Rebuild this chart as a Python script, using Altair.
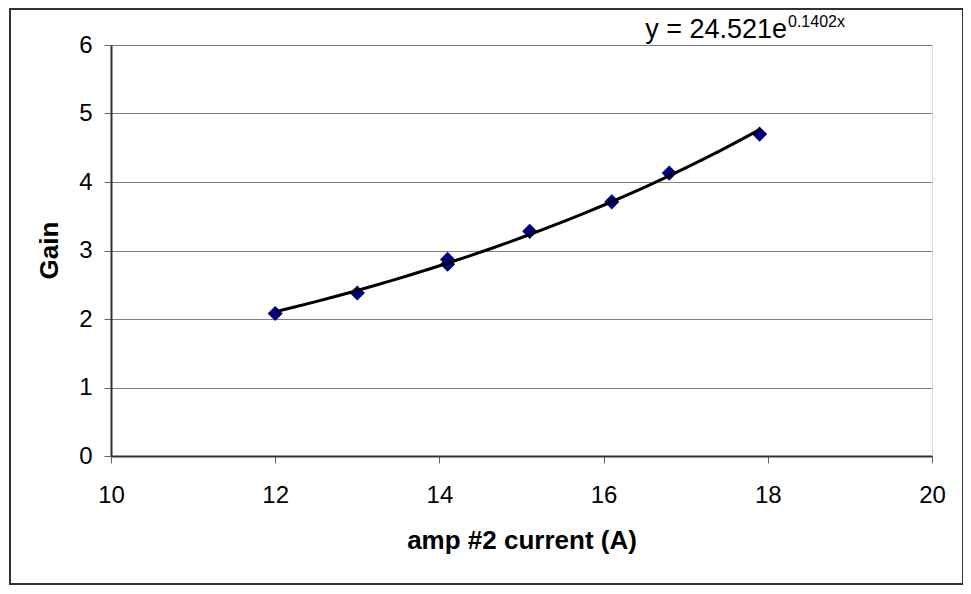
import altair as alt
import pandas as pd

# data
current = [12.0, 13.0, 14.1, 14.1, 15.1, 16.1, 16.8, 17.9]
gain = [2.08, 2.38, 2.80, 2.87, 3.28, 3.71, 4.13, 4.70]

x_ticks = [10, 12, 14, 16, 18, 20]
y_ticks = [0, 1, 2, 3, 4, 5, 6]

eq_main = ["y = 24.521e"]
eq_sup = ["0.1402x"]

FONT = "Liberation Sans, Arial, sans-serif"

df = pd.DataFrame({"current": current, "gain": gain})

xs = alt.Scale(domain=[10, 20], nice=False, zero=False)
ys = alt.Scale(domain=[0, 6], nice=False)

x_axis = alt.Axis(
    values=x_ticks, format="d", title="amp #2 current (A)", grid=False,
    domainColor="#333333", domainWidth=2, tickColor="#666666", tickSize=7,
    labelFont=FONT, labelFontSize=24, labelColor="#000000", labelBaseline="alphabetic",
    labelPadding=39, labelFlush=False,
    titleFont=FONT, titleFontSize=26, titleFontWeight="bold", titleColor="#000000",
    titleBaseline="alphabetic", titleY=92,
)
y_axis = alt.Axis(
    values=y_ticks, format="d", title="Gain", grid=True, gridColor="#808080", gridWidth=1,
    domainColor="#333333", domainWidth=2, tickColor="#666666", tickSize=7,
    labelFont=FONT, labelFontSize=24, labelColor="#000000", labelPadding=12,
    labelBaseline="middle", labelFlush=False,
    titleFont=FONT, titleFontSize=26, titleFontWeight="bold", titleColor="#000000",
    titleAngle=-90, titleBaseline="middle", titleX=-62, titleY=205,
)

base = alt.Chart(df)

trend = base.mark_line(color="#000000", strokeWidth=3).encode(
    x=alt.X("current:Q", scale=xs, axis=x_axis),
    y=alt.Y("gain:Q", scale=ys, axis=y_axis),
).transform_regression("current", "gain", method="exp")

points = base.mark_point(shape="diamond", filled=True, color="#000080", size=230, opacity=1).encode(
    x=alt.X("current:Q", scale=xs),
    y=alt.Y("gain:Q", scale=ys),
)

main_txt = alt.Chart(pd.DataFrame({"t": eq_main})).mark_text(
    font=FONT, fontSize=27, align="right", baseline="alphabetic", color="#000000"
).encode(text="t:N", x=alt.value(676), y=alt.value(-7))

sup_txt = alt.Chart(pd.DataFrame({"t": eq_sup})).mark_text(
    font=FONT, fontSize=16, align="left", baseline="alphabetic", color="#000000"
).encode(text="t:N", x=alt.value(677), y=alt.value(-18))

border = alt.Chart(pd.DataFrame({"b": [0]})).mark_rect(
    fill=None, stroke="#333333", strokeWidth=2
).encode(x=alt.value(-101), x2=alt.value(852), y=alt.value(-36), y2=alt.value(539))

chart = alt.layer(points, trend, main_txt, sup_txt, border).properties(
    width=821, height=411,
    autosize=alt.AutoSizeParams(type="none"),
    padding={"left": 103, "top": 37, "right": 31, "bottom": 129},
).configure_view(stroke="#808080", strokeWidth=2).configure(background="#ffffff")

chart.save("out.html", embed_options={"renderer": "svg", "actions": False})
